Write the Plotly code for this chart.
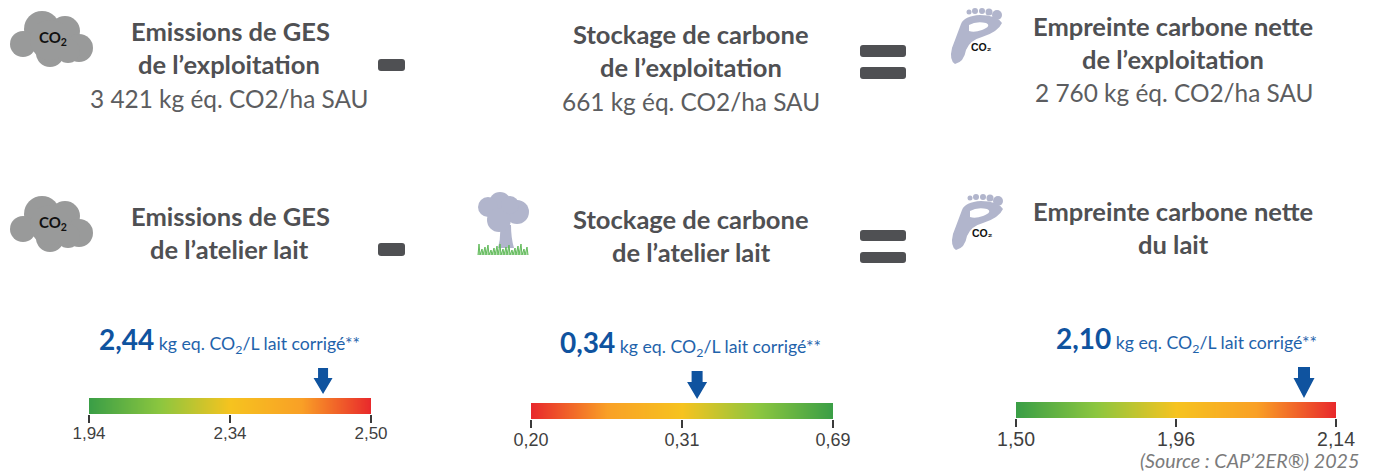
#!/usr/bin/python3

import plotly.graph_objects as go

W = 1373
H = 473

# texts of the two upper rows
title_lines = [
	"Emissions de GES", "de l’exploitation",
	"Stockage de carbone", "de l’exploitation",
	"Empreinte carbone nette", "de l’exploitation",
	"Emissions de GES", "de l’atelier lait",
	"Stockage de carbone", "de l’atelier lait",
	"Empreinte carbone nette", "du lait",
]
title_x = [230, 229, 691, 691, 1173, 1173, 230, 229, 691, 691, 1173, 1173]
title_y = [31, 64, 34, 67, 26, 59, 216, 249, 219, 252, 211, 244]

value_lines = ["3 421 kg éq. CO2/ha SAU", "661 kg éq. CO2/ha SAU", "2 760 kg éq. CO2/ha SAU"]
value_x = [229, 691, 1174]
value_y = [98, 101, 92]

# gauges
gauge_values = ["2,44", "0,34", "2,10"]
gauge_ticks = [["1,94", "2,34", "2,50"], ["0,20", "0,31", "0,69"], ["1,50", "1,96", "2,14"]]
tick_positions = [0, 0.5, 1]
arrow_positions = [0.83, 0.55, 0.90]  # the scale is not linear
gauge_stops = [0, 0.25, 0.5, 0.75, 1]
gauge_levels = [
	[0, 0.25, 0.5, 0.75, 1],
	[1, 0.75, 0.5, 0.25, 0],
	[0, 0.25, 0.5, 0.75, 1],
]
gauge_colors = [[0, "#3a9e46"], [0.25, "#8cc63f"], [0.5, "#f6c31f"], [0.75, "#f9a026"], [1, "#e8282c"]]

# pixel boxes: left, right, top, bottom
gauge_boxes = [(89, 371, 398, 414), (531, 833, 403, 419), (1016, 1336, 402, 418)]
gauge_font = [17, 18, 19.5]
value_text_x = [229, 690, 1186]
value_text_y = [339, 342, 338]
# arrow: half head width, half shaft width, top and shoulder height over the bar
arrow_sizes = [(9.5, 5, 30, 20), (10, 5.5, 32, 21), (10.5, 6, 35, 24)]
ROOM_ABOVE = 2.5  # the subplot is this many bar heights taller, shapes are clipped to it

TEXT_DARK = "#4f5053"
TEXT_GREY = "#5c5d60"
BLUE = "#0f539f"
ICON_GREY = "#999a9a"
ICON_BLUE = "#b1b5cc"

fig = go.Figure()
shapes = []
annotations = []


def add_text(x, y, text, size, color, family="Lato"):
	annotations.append(dict(x=x, y=y, xref="x", yref="y", text=text, showarrow=False,
		xanchor="center", yanchor="middle", font=dict(family=family, size=size, color=color)))


def add_circle(cx, cy, r, color):
	shapes.append(dict(type="circle", xref="x", yref="y", x0=cx - r, x1=cx + r, y0=cy - r, y1=cy + r,
		fillcolor=color, line_width=0, layer="below"))


def add_path(path, color):
	shapes.append(dict(type="path", xref="x", yref="y", path=path, fillcolor=color, line_width=0, layer="below"))


def add_bar(x0, x1, y0, y1):
	r = 3
	add_path(f"M{x0 + r},{y0} L{x1 - r},{y0} Q{x1},{y0} {x1},{y0 + r} L{x1},{y1 - r} Q{x1},{y1} {x1 - r},{y1} "
		f"L{x0 + r},{y1} Q{x0},{y1} {x0},{y1 - r} L{x0},{y0 + r} Q{x0},{y0} {x0 + r},{y0} Z", TEXT_DARK)


def add_cloud(dy):
	for cx, cy, r in [(42, 29, 18), (65, 31, 15), (23, 44, 13), (79, 48, 14), (50, 53, 14), (68, 51, 12), (50, 40, 20)]:
		add_circle(cx, cy + dy, r, ICON_GREY)
	add_text(53, 38 + dy, "<b>CO<sub>2</sub></b>", 15, "#111111", "Lato")


def add_foot(dx, dy):
	def p(x, y):
		return f"{x + dx},{y + dy}"
	add_path(f"M{p(25, 64)} Q{p(19, 60)} {p(22, 48)} Q{p(28, 32)} {p(31, 24)} Q{p(34, 16)} {p(50, 15)} "
		f"Q{p(66, 15)} {p(72, 23)} Q{p(68, 32)} {p(52, 37)} Q{p(40, 40)} {p(36, 50)} Q{p(34, 62)} {p(25, 64)} Z", ICON_BLUE)
	add_path(f"M{p(39, 25)} Q{p(46, 21)} {p(56, 23)} Q{p(62, 26)} {p(52, 30)} Q{p(44, 33)} {p(39, 31)} Z", "#ffffff")
	for cx, cy, r in [(39, 12, 2.5), (45, 11, 3), (52, 11, 3), (59, 12, 3.5), (67, 15, 5)]:
		add_circle(cx + dx, cy + dy, r, ICON_BLUE)
	add_text(51 + dx, 47 + dy, "<b>CO₂</b>", 10.5, "#111111", "Liberation Sans")


def add_tree():
	add_path("M500,225 L511,225 Q511,238 514,248 L498,248 Q501,238 500,225 Z", ICON_BLUE)
	for cx, cy, r in [(500, 203, 11), (488, 207, 10), (517, 212, 12), (499, 220, 12), (510, 205, 9)]:
		add_circle(cx, cy, r, ICON_BLUE)
	grass = "M478,255 " + " ".join(
		f"L{479 + i * 3},{244 + (i * 5) % 7} L{480 + i * 3},255" for i in range(17))
	shapes.append(dict(type="path", xref="x", yref="y", path=grass, line=dict(color="#63bb5c", width=1),
		fillcolor="rgba(99,187,92,0.5)", layer="below"))


# page axis in pixels, it only carries the texts and the icons
fig.add_trace(go.Scatter(x=[], y=[], xaxis="x", yaxis="y", hoverinfo="skip", showlegend=False))

for i in range(len(title_lines)):
	add_text(title_x[i], title_y[i], "<b>" + title_lines[i] + "</b>", 25.5, TEXT_DARK)
for i in range(len(value_lines)):
	add_text(value_x[i], value_y[i], value_lines[i], 24.4, TEXT_GREY)

add_cloud(0)
add_cloud(185)
add_foot(930, 0)
add_foot(931, 186)
add_tree()

add_bar(378, 405, 59, 71)
add_bar(378, 405, 243, 256)
add_bar(860, 906, 45, 57)
add_bar(860, 906, 67, 79)
add_bar(860, 906, 230, 241)
add_bar(860, 906, 252, 263)

layout_axes = {}
for i in range(3):
	n = i + 2
	left, right, top, bottom = gauge_boxes[i]
	top_with_room = top - ROOM_ABOVE * (bottom - top)
	fig.add_trace(go.Heatmap(x=gauge_stops, y=[0.25, 0.75], z=[gauge_levels[i], gauge_levels[i]],
		xaxis=f"x{n}", yaxis=f"y{n}", colorscale=gauge_colors, zmin=0, zmax=1, zsmooth="best",
		showscale=False, hoverinfo="skip"))
	layout_axes[f"xaxis{n}"] = dict(domain=[left / W, right / W], range=[0, 1], anchor=f"y{n}", showgrid=False,
		zeroline=False, showline=False, automargin=False, tickvals=tick_positions, ticktext=gauge_ticks[i],
		ticks="outside", ticklen=8, tickwidth=2, tickcolor="#3a3a3a", ticklabelstandoff=-4,
		tickfont=dict(family="Liberation Sans", size=gauge_font[i], color="#3f3f3f"))
	layout_axes[f"yaxis{n}"] = dict(domain=[1 - bottom / H, 1 - top_with_room / H], range=[0, 1 + ROOM_ABOVE],
		anchor=f"x{n}", visible=False, automargin=False)

	# block arrow over the gauge, anchored on the gauge scale
	head, shaft, arrow_top, shoulder = arrow_sizes[i]
	shapes.append(dict(type="path", xref=f"x{n}", yref=f"y{n}", xsizemode="pixel", ysizemode="pixel",
		xanchor=arrow_positions[i], yanchor=1,
		path=f"M{-shaft},{arrow_top} L{shaft},{arrow_top} L{shaft},{shoulder} L{head},{shoulder} L0,4 "
			f"L{-head},{shoulder} L{-shaft},{shoulder} Z",
		fillcolor=BLUE, line_width=0))

	add_text(value_text_x[i], value_text_y[i],
		f"<b><span style='font-size:28px;color:{BLUE}'>{gauge_values[i]}</span></b> kg eq. CO<sub>2</sub>/L lait corrigé**",
		17.7, "#1f63ab")

add_text(1249.5, 460, "<i>(Source : CAP’2ER®) 2025</i>", 19.7, "#7b7b7b")

fig.update_layout(
	width=W, height=H, margin=dict(l=0, r=0, t=0, b=0, pad=0, autoexpand=False),
	paper_bgcolor="#ffffff", plot_bgcolor="rgba(0,0,0,0)", showlegend=False,
	xaxis=dict(domain=[0, 1], range=[0, W], visible=False, fixedrange=True, automargin=False),
	yaxis=dict(domain=[0, 1], range=[H, 0], visible=False, fixedrange=True, automargin=False),
	shapes=shapes, annotations=annotations, **layout_axes,
)

# the page has a default body margin that would shift everything by 8px
fig.write_html("out.html", config={"displayModeBar": False}, post_script="document.body.style.margin='0';")
